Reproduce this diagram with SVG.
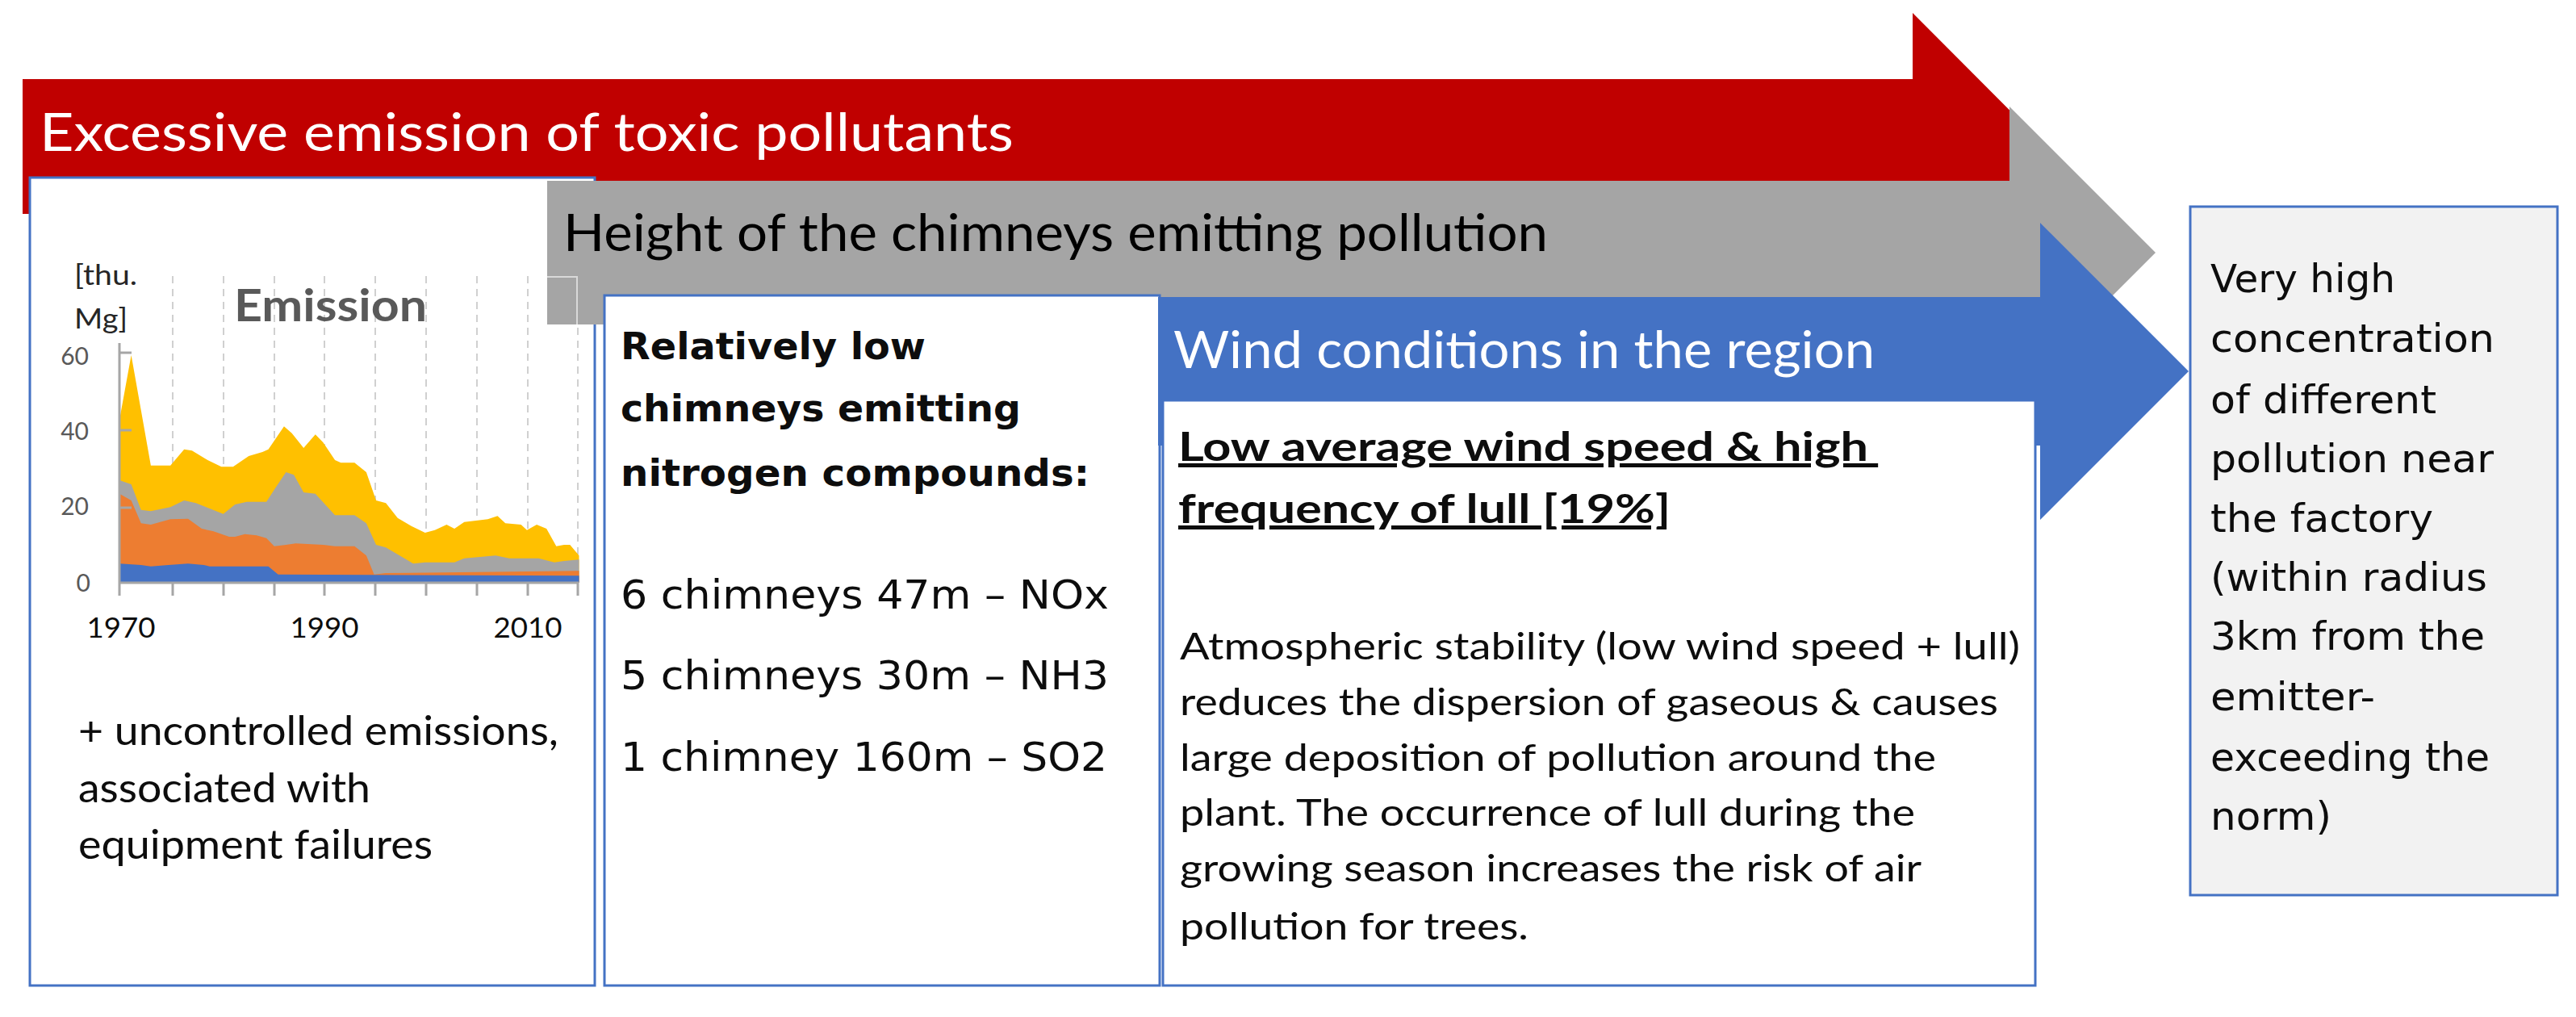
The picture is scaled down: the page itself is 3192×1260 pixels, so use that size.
<svg xmlns="http://www.w3.org/2000/svg" width="3192" height="1260" viewBox="0 0 3192 1260">
<style>
.box{fill:#FFFFFF;stroke:#4472C4;stroke-width:3}
.cal{font-family:Lato,"Liberation Sans",sans-serif}
.wide{font-family:"DejaVu Sans","Liberation Sans",sans-serif}
.grid{stroke:#D0D0D0;stroke-width:2;stroke-dasharray:9 7}
.axis{stroke:#A6A6A6;stroke-width:3;fill:none}
.ylab{font-family:Lato,"Liberation Sans",sans-serif;font-size:30px;fill:#595959;text-anchor:end}
.xlab{font-family:Lato,"Liberation Sans",sans-serif;font-size:34px;fill:#0D0D0D;text-anchor:middle}
</style>
<rect width="3192" height="1260" fill="#FFFFFF"/>

<g id="arrow-emission">
<polygon points="28,98 2370,98 2370,16 2535,181.5 2370,347 2370,265 28,265" fill="#C00000"/>
<text class="cal" x="49" y="187" font-size="66" fill="#FFFFFF" textLength="1207" lengthAdjust="spacingAndGlyphs">Excessive emission of toxic pollutants</text>
</g>

<g id="chart-box">
<rect class="box" x="37" y="220" width="700" height="1001"/>
<g id="gridlines">
<line class="grid" x1="214" y1="342" x2="214" y2="722"/>
<line class="grid" x1="277" y1="342" x2="277" y2="722"/>
<line class="grid" x1="340" y1="342" x2="340" y2="722"/>
<line class="grid" x1="402" y1="342" x2="402" y2="722"/>
<line class="grid" x1="465" y1="342" x2="465" y2="722"/>
<line class="grid" x1="528" y1="342" x2="528" y2="722"/>
<line class="grid" x1="591" y1="342" x2="591" y2="722"/>
<line class="grid" x1="654" y1="342" x2="654" y2="722"/>
<line class="grid" x1="716" y1="342" x2="716" y2="722"/>
</g>
<g id="areas" transform="translate(0,300) scale(0.48544,0.33333)">
<polygon fill="#FFC000" points="305,660 335,420 385,830 435,830 470,770 490,775 530,810 565,835 595,835 635,795 670,780 685,770 725,685 745,710 775,765 805,715 825,745 855,810 870,820 905,820 935,855 960,960 985,970 1015,1025 1050,1055 1085,1080 1110,1070 1140,1050 1160,1065 1185,1040 1215,1035 1245,1030 1270,1018 1290,1045 1330,1050 1345,1070 1370,1050 1395,1065 1420,1130 1440,1125 1455,1125 1478,1165 1478,1265 305,1265"/>
<polygon fill="#A5A5A5" points="305,885 335,900 360,995 385,1000 435,985 470,960 500,970 535,990 570,1010 600,975 630,965 680,965 700,920 730,855 750,865 775,930 805,935 830,975 855,1015 905,1015 935,1045 960,1125 985,1135 1020,1165 1055,1195 1085,1190 1160,1190 1185,1175 1265,1165 1300,1175 1375,1175 1415,1190 1440,1185 1478,1180 1478,1265 305,1265"/>
<polygon fill="#ED7D31" points="305,935 335,960 360,1045 385,1050 435,1030 480,1028 515,1065 545,1075 585,1095 600,1095 625,1085 655,1090 680,1100 700,1130 730,1125 755,1120 825,1125 855,1130 905,1130 935,1165 955,1235 985,1230 1478,1222 1478,1265 305,1265"/>
<polygon fill="#4472C4" points="305,1195 360,1200 385,1205 430,1200 480,1195 520,1200 535,1205 685,1205 710,1235 1478,1240 1478,1265 305,1265"/>
</g>
<g id="axes">
<line class="axis" x1="148" y1="722" x2="717" y2="722"/>
<line class="axis" x1="148" y1="425" x2="148" y2="738"/>
<line class="axis" x1="148" y1="437" x2="163" y2="437"/>
<line class="axis" x1="148" y1="533" x2="163" y2="533"/>
<line class="axis" x1="148" y1="629" x2="163" y2="629"/>
<path class="axis" d="M214,722V738M277,722V738M340,722V738M402,722V738M465,722V738M528,722V738M591,722V738M654,722V738M716,722V738"/>
</g>
<text class="ylab" x="110" y="452">60</text>
<text class="ylab" x="110" y="545">40</text>
<text class="ylab" x="110" y="638">20</text>
<text class="ylab" x="112" y="733">0</text>
<text class="xlab" x="150" y="790" textLength="85" lengthAdjust="spacingAndGlyphs">1970</text>
<text class="xlab" x="402" y="790" textLength="85" lengthAdjust="spacingAndGlyphs">1990</text>
<text class="xlab" x="654" y="790" textLength="85" lengthAdjust="spacingAndGlyphs">2010</text>
<text class="cal" x="92" y="353" font-size="34" fill="#262626" textLength="78" lengthAdjust="spacingAndGlyphs">[thu.</text>
<text class="cal" x="92" y="407" font-size="34" fill="#262626" textLength="66" lengthAdjust="spacingAndGlyphs">Mg]</text>
<text class="cal" x="290" y="398" font-size="56" font-weight="bold" fill="#595959" textLength="239" lengthAdjust="spacingAndGlyphs">Emission</text>
<text class="cal" font-size="50" fill="#0D0D0D">
<tspan x="97" y="923" textLength="595" lengthAdjust="spacingAndGlyphs">+ uncontrolled emissions,</tspan>
<tspan x="97" y="994" textLength="362" lengthAdjust="spacingAndGlyphs">associated with</tspan>
<tspan x="97" y="1064" textLength="439" lengthAdjust="spacingAndGlyphs">equipment failures</tspan>
</text>
</g>

<g id="arrow-height">
<polygon points="678,224 2490,224 2490,132 2671,313 2490,494 2490,402 678,402" fill="#A5A5A5"/>
<polyline points="678,343 715,343 715,402" fill="none" stroke="#D9D9D9" stroke-width="2"/>
<text class="cal" x="698" y="311" font-size="63" fill="#000000" textLength="1220" lengthAdjust="spacingAndGlyphs">Height of the chimneys emitting pollution</text>
</g>

<g id="chimneys-box">
<rect class="box" x="749" y="366" width="688" height="855"/>
<text class="wide" font-size="46" font-weight="bold" fill="#0D0D0D">
<tspan x="769" y="445" textLength="378" lengthAdjust="spacingAndGlyphs">Relatively low</tspan>
<tspan x="769" y="522" textLength="496" lengthAdjust="spacingAndGlyphs">chimneys emitting</tspan>
<tspan x="769" y="602" textLength="581" lengthAdjust="spacingAndGlyphs">nitrogen compounds:</tspan>
</text>
<text class="wide" font-size="50" fill="#0D0D0D">
<tspan x="769" y="754" textLength="605" lengthAdjust="spacingAndGlyphs">6 chimneys 47m – NOx</tspan>
<tspan x="769" y="854" textLength="605" lengthAdjust="spacingAndGlyphs">5 chimneys 30m – NH3</tspan>
<tspan x="769" y="955" textLength="603" lengthAdjust="spacingAndGlyphs">1 chimney 160m – SO2</tspan>
</text>
</g>

<g id="arrow-wind">
<polygon points="1435,368 2528,368 2528,276 2712,460 2528,644 2528,552 1435,552" fill="#4472C4"/>
<text class="cal" x="1454" y="456" font-size="64" fill="#FFFFFF" textLength="869" lengthAdjust="spacingAndGlyphs">Wind conditions in the region</text>
</g>

<g id="wind-box">
<rect class="box" x="1441" y="496" width="1081" height="725"/>
<text class="cal" font-size="50" font-weight="bold" fill="#0D0D0D" text-decoration="underline">
<tspan x="1460" y="571" textLength="855" lengthAdjust="spacingAndGlyphs">Low average wind speed &amp; high</tspan>
<tspan x="1460" y="648" textLength="610" lengthAdjust="spacingAndGlyphs">frequency of lull [19%]</tspan>
</text>
<text class="cal" font-size="46" fill="#0D0D0D">
<tspan x="1462" y="817" textLength="1041" lengthAdjust="spacingAndGlyphs">Atmospheric stability (low wind speed + lull)</tspan>
<tspan x="1462" y="886" textLength="1014" lengthAdjust="spacingAndGlyphs">reduces the dispersion of gaseous &amp; causes</tspan>
<tspan x="1462" y="955" textLength="937" lengthAdjust="spacingAndGlyphs">large deposition of pollution around the</tspan>
<tspan x="1462" y="1023" textLength="911" lengthAdjust="spacingAndGlyphs">plant. The occurrence of lull during the</tspan>
<tspan x="1462" y="1092" textLength="918" lengthAdjust="spacingAndGlyphs">growing season increases the risk of air</tspan>
<tspan x="1462" y="1164" textLength="432" lengthAdjust="spacingAndGlyphs">pollution for trees.</tspan>
</text>
</g>

<g id="result-box">
<rect x="2714" y="256" width="455" height="853" fill="#F2F2F2" stroke="#4472C4" stroke-width="3"/>
<text class="wide" font-size="48" fill="#0D0D0D">
<tspan x="2739" y="362" textLength="229" lengthAdjust="spacingAndGlyphs">Very high</tspan>
<tspan x="2739" y="436" textLength="352" lengthAdjust="spacingAndGlyphs">concentration</tspan>
<tspan x="2739" y="512" textLength="280" lengthAdjust="spacingAndGlyphs">of different</tspan>
<tspan x="2739" y="585" textLength="351" lengthAdjust="spacingAndGlyphs">pollution near</tspan>
<tspan x="2739" y="659" textLength="276" lengthAdjust="spacingAndGlyphs">the factory</tspan>
<tspan x="2739" y="732" textLength="343" lengthAdjust="spacingAndGlyphs">(within radius</tspan>
<tspan x="2739" y="805" textLength="340" lengthAdjust="spacingAndGlyphs">3km from the</tspan>
<tspan x="2739" y="880" textLength="204" lengthAdjust="spacingAndGlyphs">emitter-</tspan>
<tspan x="2739" y="955" textLength="346" lengthAdjust="spacingAndGlyphs">exceeding the</tspan>
<tspan x="2739" y="1028" textLength="150" lengthAdjust="spacingAndGlyphs">norm)</tspan>
</text>
</g>

<g id="connectors"></g>
</svg>
